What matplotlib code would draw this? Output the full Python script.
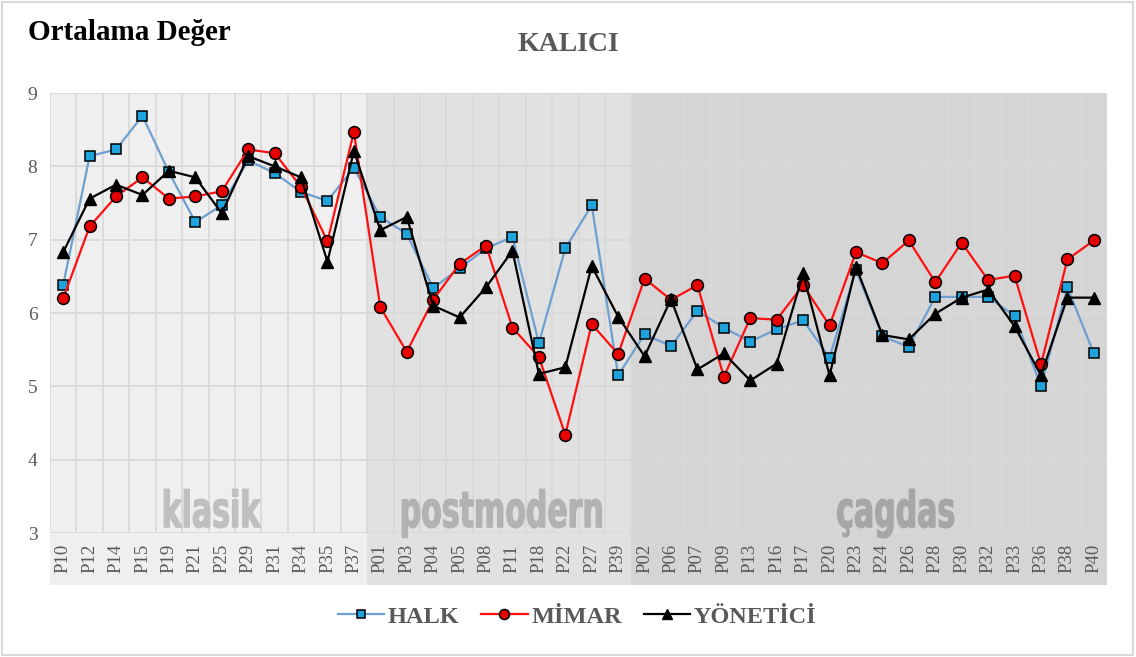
"""Ortalama deger grafigi: KALICI, uc grup (HALK, MIMAR, YONETICI)."""

import matplotlib

matplotlib.use("Agg")
import matplotlib.pyplot as plt
from matplotlib.font_manager import FontProperties
from matplotlib.patches import PathPatch, Rectangle
from matplotlib.textpath import TextPath
from matplotlib.transforms import Affine2D, ScaledTranslation, blended_transform_factory

klasik = ["P10", "P12", "P14", "P15", "P19", "P21", "P25", "P29", "P31", "P34", "P35", "P37"]
postmodern = ["P01", "P03", "P04", "P05", "P08", "P11", "P18", "P22", "P27", "P39"]
cagdas = ["P02", "P06", "P07", "P09", "P13", "P16", "P17", "P20", "P23", "P24",
          "P26", "P28", "P30", "P32", "P33", "P36", "P38", "P40"]
groups = [("klasik", klasik), ("postmodern", postmodern), ("çagdas", cagdas)]
categories = klasik + postmodern + cagdas

halk = [6.38, 8.14, 8.23, 8.69, 7.92, 7.24, 7.47, 8.08, 7.91, 7.65, 7.53, 7.98,
        7.31, 7.08, 6.34, 6.61, 6.88, 7.04, 5.59, 6.88, 7.47, 5.15,
        5.71, 5.55, 6.03, 5.80, 5.61, 5.78, 5.90, 5.39, 6.59, 5.68,
        5.54, 6.22, 6.22, 6.22, 5.96, 5.00, 6.35, 5.45]
mimar = [6.20, 7.18, 7.59, 7.85, 7.56, 7.59, 7.66, 8.23, 8.18, 7.72, 6.98, 8.47,
         6.08, 5.47, 6.18, 6.67, 6.92, 5.80, 5.40, 4.34, 5.85, 5.44,
         6.47, 6.18, 6.38, 5.13, 5.93, 5.91, 6.38, 5.83, 6.83, 6.68,
         6.99, 6.42, 6.96, 6.45, 6.51, 5.30, 6.73, 6.99]
yonetici = [6.83, 7.56, 7.75, 7.61, 7.94, 7.85, 7.36, 8.14, 8.00, 7.85, 6.70, 8.21,
            7.13, 7.31, 6.10, 5.94, 6.35, 6.85, 5.17, 5.26, 6.64, 5.95,
            5.41, 6.19, 5.23, 5.45, 5.08, 5.31, 6.54, 5.15, 6.63, 5.70,
            5.64, 5.99, 6.21, 6.32, 5.82, 5.15, 6.21, 6.21]

y_ticks = [3, 4, 5, 6, 7, 8, 9]

SERIF = "Liberation Serif"
TEXT_GRAY = "#595959"
band_colors = ["#efefef", "#e1e1e1", "#d5d5d5"]
label_colors = ["#bfbfbf", "#b2b2b2", "#a6a6a6"]
label_shift = [0.15, 0.1, 1.0]  # nudges the group name off the group centre


def condensed_label(ax, fig, text, xc, y, color, size=36, squeeze=0.6):
    # narrow bold label built from a glyph path, squeezed horizontally
    tp = TextPath((0, 0), text, size=size, prop=FontProperties(family="DejaVu Sans", weight="bold"))
    ext = tp.get_extents()
    cx = (ext.x0 + ext.x1) / 2
    trans = (Affine2D().translate(-cx, 0).scale(squeeze / 72, 1 / 72)
             + fig.dpi_scale_trans
             + ScaledTranslation(xc, y, ax.transData))
    ax.add_patch(PathPatch(tp, transform=trans, facecolor=color, edgecolor=color,
                           linewidth=0.9, clip_on=False, zorder=1))


fig = plt.figure(figsize=(11.36, 6.57), dpi=100)
ax = fig.add_axes([0.044, 0.1887, 0.9305, 0.6697])

x = list(range(len(categories)))
ax.set_xlim(-0.5, len(categories) - 0.5)
ax.set_ylim(3, 9)

# group backgrounds, extended down behind the tick labels
band = blended_transform_factory(ax.transData, ax.transAxes)
start = 0
for (name, members), bg, lc, dx in zip(groups, band_colors, label_colors, label_shift):
    left = start - 0.5
    ax.add_patch(Rectangle((left, -0.118), len(members), 1.118, transform=band,
                           facecolor=bg, edgecolor="none", clip_on=False, zorder=0))
    condensed_label(ax, fig, name, start + (len(members) - 1) / 2 + dx, 3.08, lc)
    start += len(members)

for v in y_ticks:
    ax.axhline(v, color="#d9d9d9", linewidth=1.3, zorder=0.5)
for k in range(len(categories) + 1):
    ax.axvline(k - 0.5, color="#d9d9d9", linewidth=1.3, zorder=0.5)

ax.plot(x, halk, color="#6d9fd1", linewidth=1.6, marker="s", markersize=7.5,
        markerfacecolor="#1ea3dc", markeredgecolor="black", markeredgewidth=1.1,
        label="HALK", zorder=3)
ax.plot(x, mimar, color="#ff1010", linewidth=1.6, marker="o", markersize=8.5,
        markerfacecolor="#e60000", markeredgecolor="black", markeredgewidth=1.1,
        label="MİMAR", zorder=4)
ax.plot(x, yonetici, color="black", linewidth=1.6, marker="^", markersize=9,
        markerfacecolor="black", markeredgecolor="black", markeredgewidth=1.0,
        label="YÖNETİCİ", zorder=5)

for s in ax.spines.values():
    s.set_visible(False)
ax.set_yticks(y_ticks)
ax.set_yticklabels([str(v) for v in y_ticks], fontfamily=SERIF, fontsize=14, color=TEXT_GRAY)
ax.set_xticks(x)
ax.set_xticklabels(categories, rotation=90, fontfamily=SERIF, fontsize=13.5, color=TEXT_GRAY)
ax.tick_params(axis="both", length=0)
ax.tick_params(axis="y", pad=9)
ax.tick_params(axis="x", pad=8)

fig.text(0.025, 0.951, "Ortalama Değer", fontfamily=SERIF, fontweight="bold",
         fontsize=21, color="black", ha="left", va="center")
fig.text(0.5, 0.932, "KALICI", fontfamily=SERIF, fontweight="bold",
         fontsize=20, color=TEXT_GRAY, ha="center", va="center")

leg = fig.legend(loc="center", bbox_to_anchor=(0.508, 0.061), ncol=3, frameon=False,
                 handlelength=1.9, handletextpad=0.15, columnspacing=0.9, markerscale=0.85,
                 prop={"family": SERIF, "weight": "bold", "size": 17.5})
for t in leg.get_texts():
    t.set_color(TEXT_GRAY)

fig.add_artist(Rectangle((0.002, 0.003), 0.995, 0.994, transform=fig.transFigure,
                         facecolor="none", edgecolor="#d9d9d9", linewidth=1.5))

fig.savefig("out.png", dpi=100)
